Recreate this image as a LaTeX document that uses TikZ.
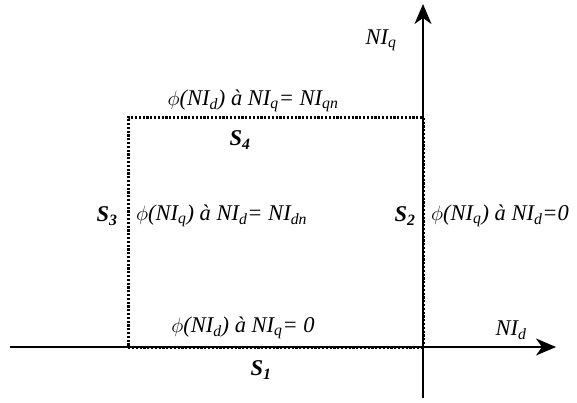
\documentclass[tikz,border=0pt]{standalone}
\usepackage{fontspec}
\setmainfont{Liberation Serif}
\usetikzlibrary{arrows.meta}
\newcommand{\sbs}[1]{\textsubscript{#1}}
\begin{document}
\begin{tikzpicture}[x=1pt,y=-1pt,
  lbl/.style={font=\fontsize{22.5}{26}\selectfont\itshape, inner sep=0pt},
  slbl/.style={font=\fontsize{22.5}{26}\selectfont\bfseries\itshape, inner sep=0pt},
  axis/.style={line width=1.5pt, -{Stealth[length=20pt,width=17pt,inset=6pt]}},
  border/.style={line width=3pt, dash pattern=on 2.2pt off 1.6pt}]
\useasboundingbox (0,0) rectangle (577,402);
\coordinate (xs) at (10,347);
\coordinate (xe) at (556,347);
\coordinate (ys) at (423,398);
\coordinate (ye) at (423,4);
\coordinate (bl) at (128,347);
\coordinate (tl) at (128,117);
\coordinate (tr) at (423,117);
\coordinate (br) at (423,347);
\draw[border] (br) -- (bl) -- (tl) -- (tr) -- (br);
\draw[axis] (xs) -- (xe);
\draw[axis] (ys) -- (ye);
\node[lbl] (nq) at (381,40) {NI\sbs{q}};
\node[lbl] (nd) at (511,330) {NI\sbs{d}};
\node[lbl] (t4) at (253,101) {$\phi$(NI\sbs{d}) à NI\sbs{q}= NI\sbs{qn}};
\node[slbl] (s4) at (240,140) {S\sbs{4}};
\node[slbl] (s3) at (107,216) {S\sbs{3}};
\node[lbl, anchor=west] (t3) at (136,216) {$\phi$(NI\sbs{q}) à NI\sbs{d}= NI\sbs{dn}};
\node[slbl] (s2) at (405,216) {S\sbs{2}};
\node[lbl, anchor=west] (t2) at (431,216) {$\phi$(NI\sbs{q}) à NI\sbs{d}=0};
\node[lbl] (t1) at (243,328) {$\phi$(NI\sbs{d}) à NI\sbs{q}= 0};
\node[slbl] (s1) at (261,370) {S\sbs{1}};
\end{tikzpicture}
\end{document}
